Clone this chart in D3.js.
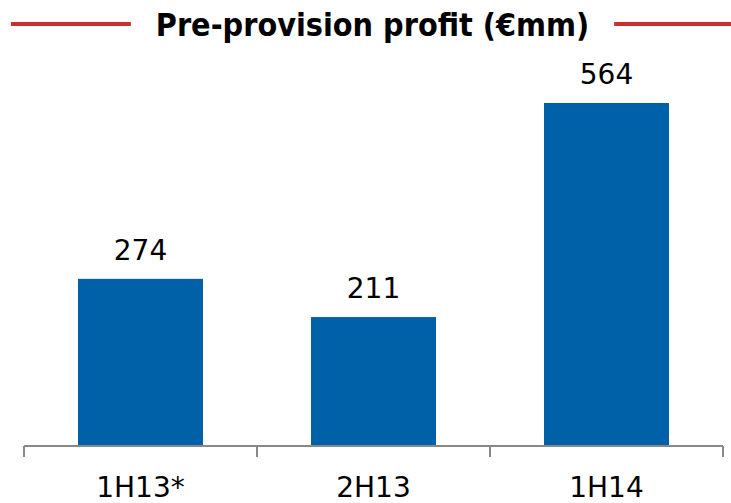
<!DOCTYPE html>
<html>
<head>
<meta charset="utf-8">
<script src="https://cdn.jsdelivr.net/npm/d3@7"></script>
<style>
  html, body { margin: 0; padding: 0; background: #fff; }
  svg { display: block; }
</style>
</head>
<body>
<div id="chart"></div>
<script>
const title = "Pre-provision profit (€mm)";
const categories = ["1H13*", "2H13", "1H14"];
const values = [274, 211, 564];

const W = 731, H = 503;
const svg = d3.select("#chart").append("svg").attr("width", W).attr("height", H);

const x = d3.scaleBand().domain(categories).range([24, 723])
  .paddingInner(0.4635).paddingOuter(0.2318);
const y = d3.scaleLinear().domain([0, 564]).range([445, 103]);

// bars
svg.selectAll("rect.bar").data(values).enter().append("rect")
  .attr("class", "bar")
  .attr("x", (d, i) => x(categories[i]))
  .attr("y", d => y(d))
  .attr("width", x.bandwidth())
  .attr("height", d => y(0) - y(d))
  .attr("fill", "#0060A8");

// value labels
svg.selectAll("text.val").data(values).enter().append("text")
  .attr("class", "val")
  .attr("x", (d, i) => x(categories[i]) + x.bandwidth() / 2)
  .attr("y", d => y(d) - 19)
  .attr("text-anchor", "middle")
  .attr("font-family", "'DejaVu Sans', Verdana, sans-serif")
  .attr("font-size", 28)
  .attr("fill", "#000")
  .text(d => d);

// axis
const axisG = svg.append("g").attr("transform", `translate(0,${y(0) + 1})`);
const xAxis = d3.axisBottom(x).tickSize(0).tickPadding(0);
axisG.call(xAxis);
axisG.select(".domain").remove();
axisG.selectAll(".tick text").remove();
axisG.append("line").attr("x1", 24).attr("x2", 723).attr("y1", 0).attr("y2", 0)
  .attr("stroke", "#888").attr("stroke-width", 2);
const bounds = [24].concat(categories.map(c => x(c) + x.bandwidth() / 2 + x.step() / 2));
axisG.selectAll("line.sep").data(bounds).enter().append("line")
  .attr("class", "sep")
  .attr("x1", d => d).attr("x2", d => d)
  .attr("y1", 0).attr("y2", 11)
  .attr("stroke", "#888").attr("stroke-width", 2);

svg.selectAll("text.cat").data(categories).enter().append("text")
  .attr("class", "cat")
  .attr("x", d => x(d) + x.bandwidth() / 2)
  .attr("y", 497)
  .attr("text-anchor", "middle")
  .attr("font-family", "'DejaVu Sans', Verdana, sans-serif")
  .attr("font-size", 28)
  .attr("fill", "#000")
  .text(d => d);

// title
const t = svg.append("text")
  .attr("x", 372.5).attr("y", 36)
  .attr("text-anchor", "middle")
  .attr("font-family", "'DejaVu Sans Condensed', 'DejaVu Sans', sans-serif")
  .attr("font-weight", "bold")
  .attr("font-size", 32)
  .attr("fill", "#000")
  .text(title);
const bb = t.node().getBBox();
svg.append("line").attr("x1", 11).attr("x2", bb.x - 25).attr("y1", 24).attr("y2", 24)
  .attr("stroke", "#C8322D").attr("stroke-width", 4);
svg.append("line").attr("x1", bb.x + bb.width + 25).attr("x2", 731).attr("y1", 24).attr("y2", 24)
  .attr("stroke", "#C8322D").attr("stroke-width", 4);
</script>
</body>
</html>
